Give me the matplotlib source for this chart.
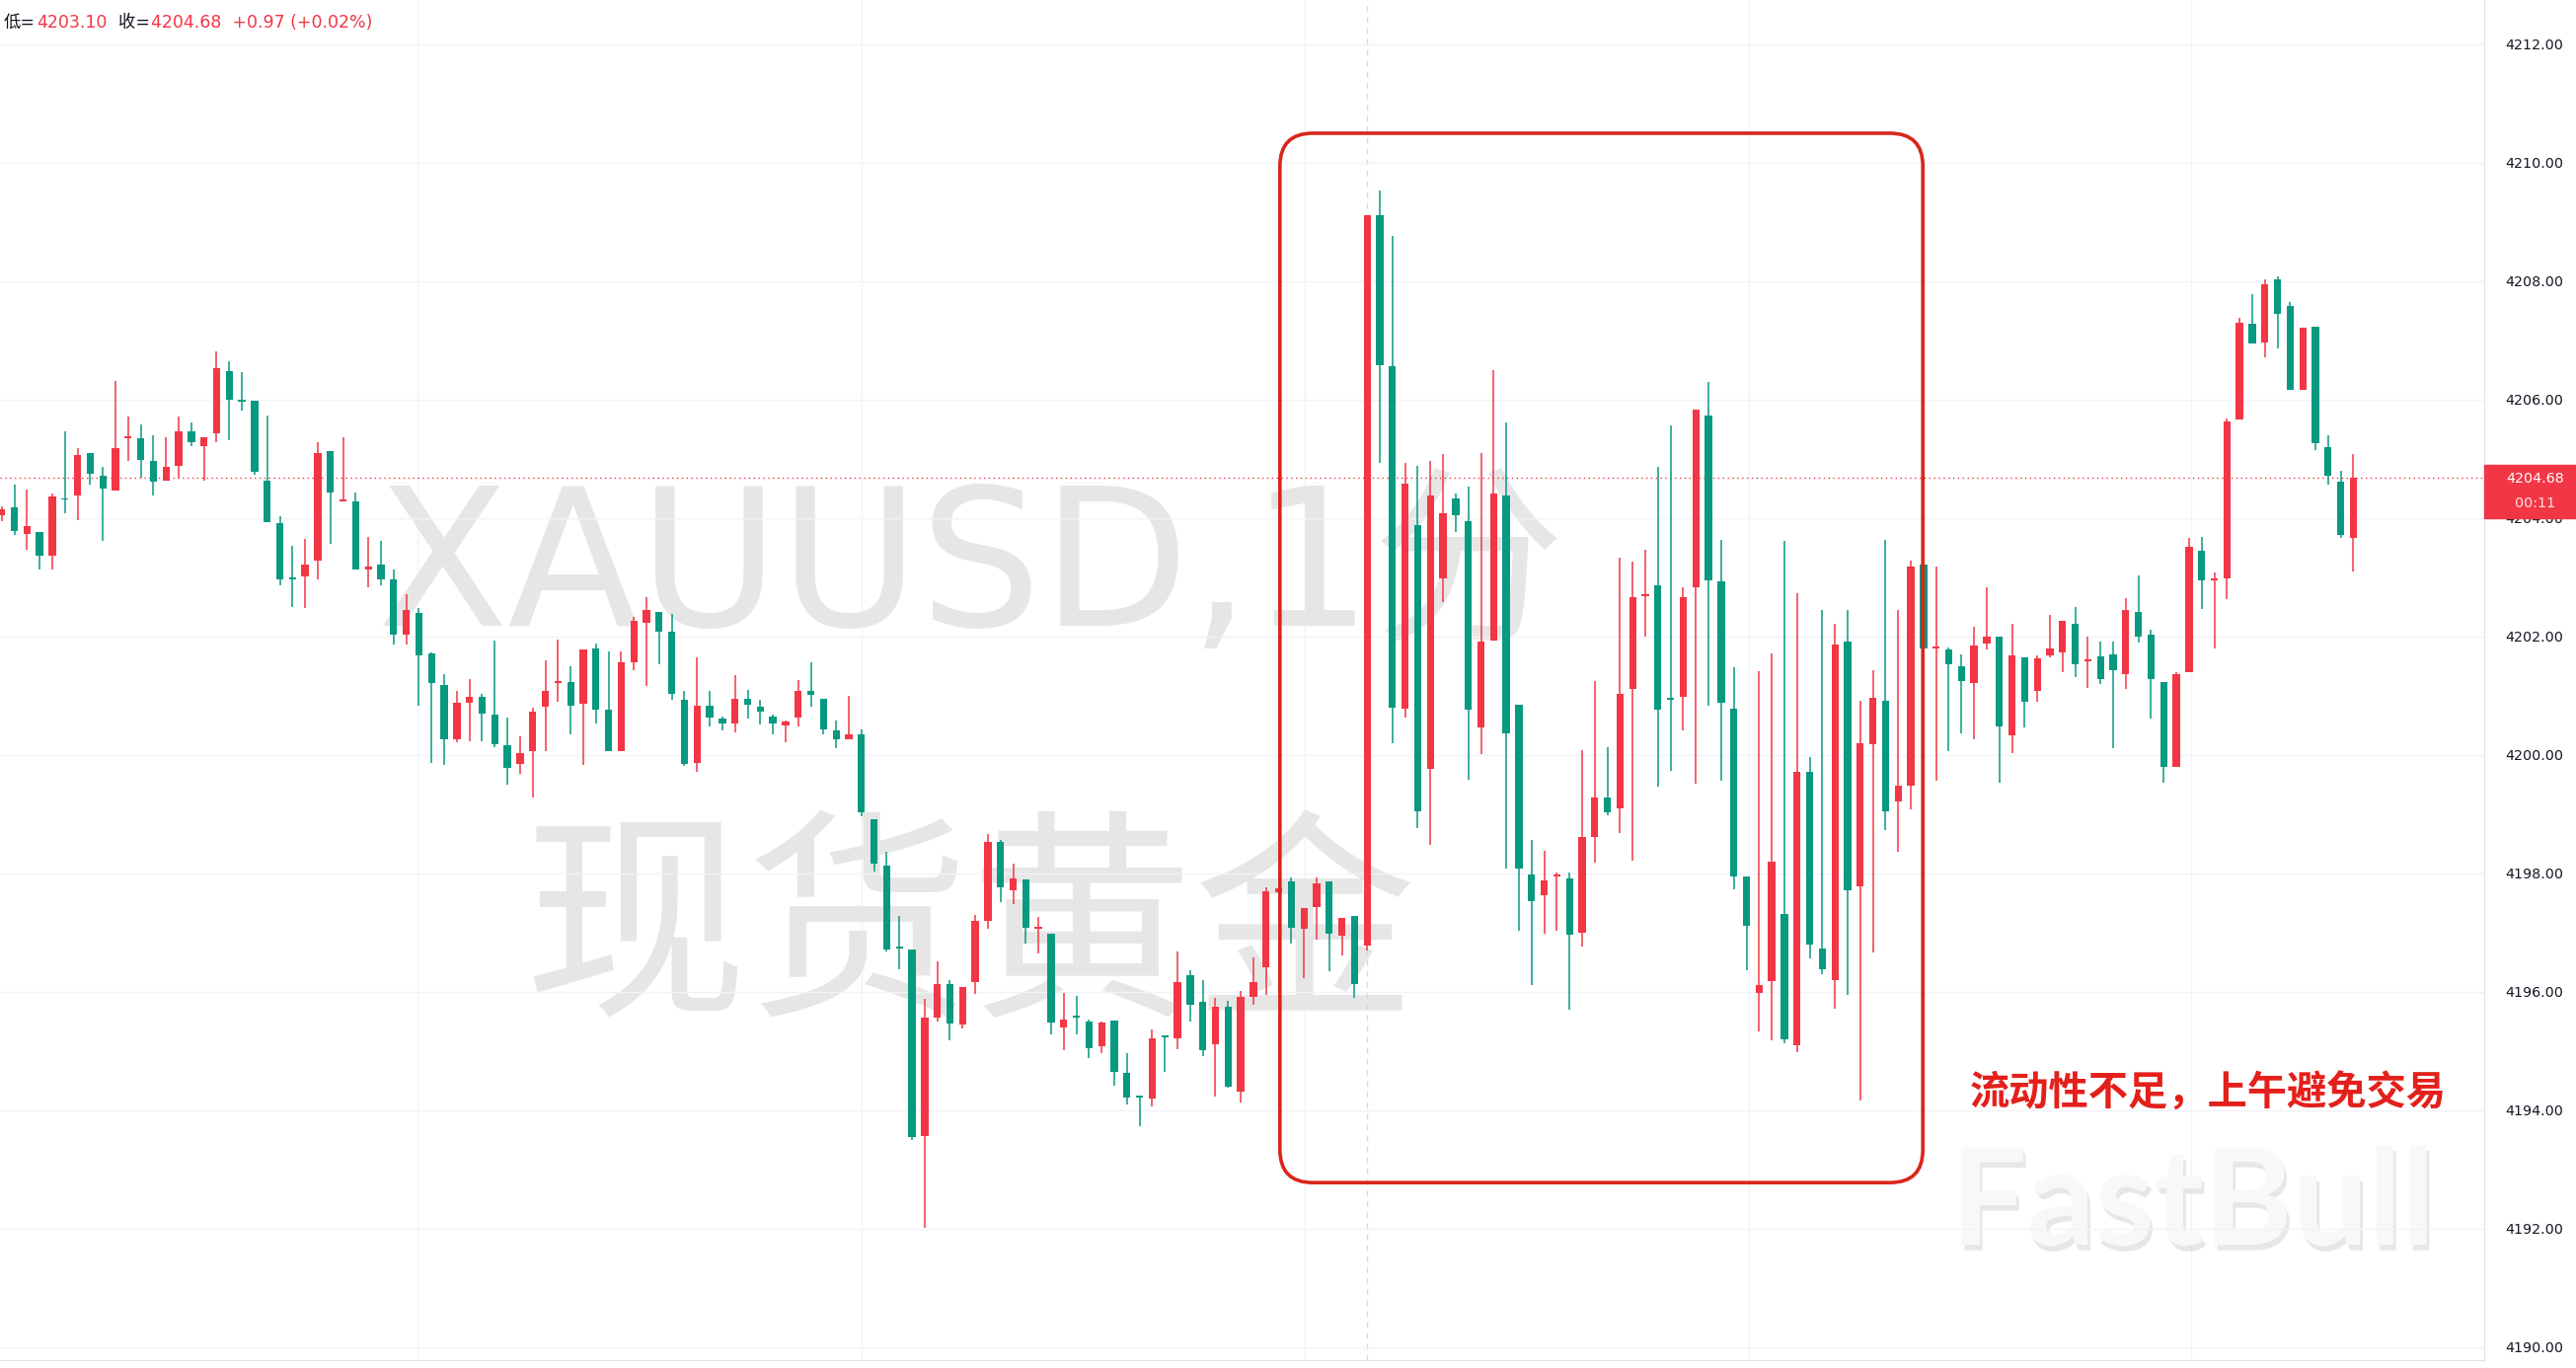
import numpy as np
import matplotlib.pyplot as plt
import matplotlib.patheffects as pe
from matplotlib.patches import FancyBboxPatch, Rectangle

plt.rcParams['font.family'] = ['DejaVu Sans', 'Noto Sans CJK SC']

# 1分钟K线 (开, 高, 低, 收)
opens = [4204.05, 4204.18, 4203.74, 4203.76, 4203.36, 4204.33, 4204.38, 4205.10, 4204.72, 4204.47,
         4205.35, 4205.35, 4204.97, 4204.64, 4204.89, 4205.46, 4205.22, 4205.43, 4206.49, 4205.98,
         4205.98, 4204.64, 4203.91, 4202.98, 4203.02, 4203.28, 4205.14, 4204.28, 4204.29, 4203.14,
         4203.21, 4202.97, 4202.04, 4202.40, 4201.72, 4201.19, 4200.26, 4200.89, 4200.98, 4200.68,
         4200.17, 4199.85, 4200.06, 4200.82, 4201.22, 4201.24, 4200.87, 4201.80, 4200.76, 4200.07,
         4201.57, 4202.24, 4202.42, 4202.08, 4200.94, 4199.87, 4200.83, 4200.61, 4200.53, 4200.95,
         4200.82, 4200.65, 4200.50, 4200.63, 4201.08, 4200.95, 4200.41, 4200.26, 4200.35, 4198.92,
         4198.14, 4196.76, 4196.72, 4193.57, 4195.57, 4196.14, 4195.45, 4196.17, 4197.20, 4198.53,
         4197.71, 4197.90, 4197.07, 4196.98, 4195.40, 4195.59, 4195.50, 4195.08, 4195.52, 4194.64,
         4194.23, 4194.20, 4195.25, 4195.21, 4196.28, 4195.84, 4195.12, 4195.75, 4194.32, 4195.91,
         4196.41, 4197.68, 4197.86, 4197.07, 4197.43, 4197.86, 4196.95, 4197.28, 4196.78, 4209.12,
         4206.57, 4200.78, 4203.89, 4199.77, 4202.98, 4204.34, 4203.95, 4200.47, 4201.94, 4204.39,
         4200.85, 4197.98, 4197.64, 4197.95, 4197.92, 4197.00, 4198.62, 4199.29, 4199.10, 4201.11,
         4202.69, 4202.86, 4200.96, 4200.99, 4202.83, 4205.73, 4202.94, 4200.78, 4197.95, 4195.99,
         4196.19, 4197.32, 4195.10, 4199.71, 4196.73, 4196.20, 4201.92, 4197.78, 4200.18, 4200.92,
         4199.22, 4199.48, 4203.22, 4201.80, 4201.78, 4201.50, 4201.22, 4201.89, 4202.00, 4200.33,
         4201.65, 4201.08, 4201.68, 4201.74, 4202.22, 4201.58, 4201.66, 4201.70, 4201.37, 4202.42,
         4202.03, 4201.23, 4199.80, 4201.40, 4203.45, 4202.95, 4202.99, 4205.66, 4207.28, 4206.97,
         4208.04, 4207.58, 4206.17, 4207.24, 4205.20, 4204.62, 4203.67]
highs = [4204.20, 4204.56, 4204.48, 4203.76, 4204.42, 4205.46, 4205.19, 4205.10, 4204.87, 4206.31,
         4205.71, 4205.59, 4205.40, 4205.36, 4205.71, 4205.62, 4205.36, 4206.82, 4206.65, 4206.47,
         4205.98, 4205.74, 4204.03, 4203.53, 4203.65, 4205.28, 4205.14, 4205.36, 4204.44, 4203.69,
         4203.61, 4203.14, 4202.71, 4202.48, 4201.73, 4201.36, 4201.08, 4201.28, 4201.04, 4201.93,
         4200.64, 4200.31, 4200.80, 4201.60, 4201.95, 4201.50, 4201.78, 4201.89, 4201.75, 4201.75,
         4202.34, 4202.66, 4202.42, 4202.38, 4201.08, 4201.65, 4201.08, 4200.65, 4201.35, 4201.10,
         4200.93, 4200.68, 4200.59, 4201.26, 4201.57, 4200.95, 4200.59, 4201.00, 4200.44, 4198.92,
         4198.37, 4197.28, 4196.72, 4195.88, 4196.52, 4196.20, 4196.09, 4197.30, 4198.66, 4198.56,
         4198.16, 4197.90, 4197.27, 4196.98, 4195.98, 4195.94, 4195.54, 4195.50, 4195.52, 4194.97,
         4194.23, 4195.37, 4195.26, 4196.68, 4196.37, 4196.20, 4195.90, 4195.85, 4196.01, 4196.58,
         4197.76, 4197.95, 4197.94, 4197.41, 4197.94, 4197.86, 4197.25, 4197.28, 4209.12, 4209.53,
         4208.77, 4204.94, 4204.89, 4204.97, 4205.08, 4204.41, 4204.53, 4205.10, 4206.50, 4205.61,
         4200.85, 4198.56, 4198.38, 4198.02, 4198.02, 4200.09, 4201.25, 4200.13, 4203.34, 4203.26,
         4203.47, 4204.87, 4205.56, 4202.83, 4205.83, 4206.30, 4203.64, 4201.49, 4197.95, 4201.41,
         4201.71, 4203.62, 4202.73, 4199.96, 4202.45, 4202.22, 4202.45, 4200.92, 4201.43, 4203.64,
         4202.45, 4203.28, 4203.30, 4203.19, 4201.82, 4201.70, 4202.17, 4202.84, 4202.00, 4202.22,
         4201.65, 4201.68, 4202.37, 4202.27, 4202.50, 4202.00, 4201.92, 4201.92, 4202.65, 4203.04,
         4202.12, 4201.23, 4201.40, 4203.66, 4203.69, 4203.08, 4205.68, 4207.39, 4207.78, 4208.03,
         4208.08, 4207.65, 4207.22, 4207.24, 4205.40, 4204.80, 4205.09]
lows = [4203.95, 4203.72, 4203.47, 4203.14, 4203.14, 4204.09, 4203.96, 4204.57, 4203.61, 4204.47,
        4204.96, 4204.68, 4204.39, 4204.64, 4204.68, 4205.22, 4204.64, 4205.28, 4205.32, 4205.82,
        4204.74, 4203.93, 4202.86, 4202.50, 4202.48, 4202.96, 4203.56, 4204.28, 4203.14, 4202.83,
        4202.86, 4201.86, 4201.86, 4200.83, 4199.87, 4199.83, 4200.21, 4200.24, 4200.24, 4200.13,
        4199.50, 4199.68, 4199.29, 4200.06, 4200.90, 4200.35, 4199.83, 4200.53, 4200.07, 4200.07,
        4201.43, 4201.17, 4201.54, 4200.93, 4199.81, 4199.71, 4200.48, 4200.41, 4200.38, 4200.61,
        4200.52, 4200.35, 4200.22, 4200.48, 4200.82, 4200.35, 4200.11, 4200.26, 4198.96, 4198.03,
        4196.69, 4196.39, 4193.50, 4192.02, 4195.50, 4195.18, 4195.39, 4195.96, 4197.06, 4197.51,
        4197.48, 4196.81, 4196.65, 4195.28, 4195.02, 4195.28, 4194.89, 4194.96, 4194.41, 4194.10,
        4193.74, 4194.06, 4194.65, 4195.03, 4195.50, 4194.92, 4194.24, 4194.38, 4194.14, 4195.79,
        4195.95, 4197.60, 4196.81, 4196.24, 4196.88, 4196.35, 4196.61, 4195.90, 4196.70, 4204.94,
        4200.20, 4200.63, 4198.77, 4198.48, 4202.59, 4203.76, 4199.58, 4200.01, 4201.94, 4198.08,
        4197.04, 4196.11, 4196.99, 4197.04, 4195.70, 4196.76, 4198.19, 4198.98, 4198.69, 4198.21,
        4202.00, 4199.46, 4199.74, 4200.41, 4199.51, 4200.84, 4199.56, 4197.73, 4196.37, 4195.33,
        4195.18, 4195.14, 4194.99, 4196.56, 4196.30, 4195.71, 4195.95, 4194.16, 4196.67, 4198.74,
        4198.37, 4199.08, 4201.70, 4199.57, 4200.06, 4200.36, 4200.27, 4201.78, 4199.54, 4200.03,
        4200.47, 4200.90, 4201.65, 4201.40, 4201.31, 4201.14, 4201.20, 4200.12, 4201.11, 4201.90,
        4200.61, 4199.54, 4199.80, 4201.40, 4202.47, 4201.80, 4202.63, 4205.66, 4206.95, 4206.71,
        4206.86, 4206.17, 4206.17, 4205.15, 4204.57, 4203.67, 4203.10]
closes = [4204.15, 4203.79, 4203.87, 4203.36, 4204.36, 4204.31, 4205.06, 4204.75, 4204.50, 4205.19,
          4205.37, 4204.98, 4204.61, 4204.87, 4205.46, 4205.28, 4205.36, 4206.53, 4206.00, 4205.97,
          4204.79, 4203.93, 4202.96, 4202.97, 4203.22, 4205.10, 4204.44, 4204.30, 4203.14, 4203.19,
          4202.97, 4202.03, 4202.45, 4201.69, 4201.21, 4200.27, 4200.89, 4200.98, 4200.70, 4200.18,
          4199.79, 4200.03, 4200.74, 4201.08, 4201.25, 4200.83, 4201.78, 4200.76, 4200.07, 4201.57,
          4202.27, 4202.45, 4202.08, 4201.04, 4199.85, 4200.83, 4200.63, 4200.53, 4200.95, 4200.85,
          4200.73, 4200.53, 4200.56, 4201.08, 4201.02, 4200.43, 4200.26, 4200.35, 4199.03, 4198.17,
          4196.72, 4196.74, 4193.55, 4195.56, 4196.14, 4195.47, 4196.09, 4197.20, 4198.53, 4197.76,
          4197.92, 4197.08, 4197.09, 4195.48, 4195.53, 4195.57, 4195.05, 4195.48, 4194.65, 4194.22,
          4194.22, 4195.22, 4195.24, 4196.17, 4195.79, 4195.01, 4195.75, 4194.40, 4195.91, 4196.16,
          4197.70, 4197.75, 4197.09, 4197.41, 4197.84, 4196.99, 4197.25, 4196.13, 4209.12, 4206.58,
          4200.80, 4204.58, 4199.05, 4204.39, 4204.08, 4204.05, 4200.76, 4201.92, 4204.41, 4200.37,
          4198.08, 4197.54, 4197.89, 4197.96, 4196.97, 4198.62, 4199.29, 4199.03, 4201.04, 4202.66,
          4202.71, 4200.76, 4200.94, 4202.67, 4205.83, 4202.95, 4200.88, 4197.95, 4197.12, 4196.12,
          4198.20, 4195.20, 4199.71, 4196.80, 4196.39, 4201.86, 4197.72, 4200.20, 4200.96, 4199.05,
          4199.48, 4203.19, 4201.80, 4201.82, 4201.53, 4201.25, 4201.85, 4202.00, 4200.49, 4201.68,
          4200.90, 4201.63, 4201.80, 4202.27, 4201.53, 4201.60, 4201.29, 4201.44, 4202.45, 4202.00,
          4201.28, 4199.80, 4201.37, 4203.52, 4202.95, 4202.96, 4205.64, 4207.30, 4206.95, 4207.95,
          4207.45, 4206.17, 4207.22, 4205.27, 4204.71, 4203.71, 4204.68]

y_ticks = np.arange(4190, 4213, 2)
vgrid = [32.9, 68.0, 103.1, 138.2, 173.2]   # 时间网格
session_start = 108
hl_box = (101.1, 151.95, 4192.78, 4210.5)    # 红框: 起止K线, 价格范围
countdown = '00:11'
watermark1 = 'XAUUSD,1分'
watermark2 = '现货黄金'
note = '流动性不足，上午避免交易'

UP = '#f23645'
DOWN = '#089981'

W, H = 2610, 1386
fig = plt.figure(figsize=(W / 100, H / 100), dpi=100)
ax = fig.add_axes([0, 8 / H, 2517 / W, 1378 / H])
ax.set_xlim(-0.133, 196.35)
ax.set_ylim(4189.783, 4212.75)

o = np.array(opens)
c = np.array(closes)
x = np.arange(len(o))
up = c >= o
colors = np.where(up, UP, DOWN)

ax.vlines(x, lows, highs, colors=colors, lw=1.1, zorder=3)
ax.bar(x, np.maximum(np.abs(c - o), 0.03), bottom=np.minimum(o, c),
       width=0.57, color=colors, linewidth=0, zorder=4)

# 网格
ax.set_yticks(y_ticks)
ax.set_yticklabels([f'{v:.2f}' for v in y_ticks])
ax.grid(axis='y', color='#f0f3fa', lw=1, zorder=0)
ax.vlines(vgrid, 4189, 4213, colors='#f0f3fa', lw=1, zorder=0)
ax.axvline(session_start, color='#d5d8de', ls=(0, (4, 4)), lw=1, zorder=1)
ax.set_xticks([])
ax.yaxis.tick_right()
ax.tick_params(axis='y', length=0, pad=15, labelsize=10.3, labelcolor='#131722')
for s in ['top', 'left']:
    ax.spines[s].set_visible(False)
for s in ['right', 'bottom']:
    ax.spines[s].set_color('#e0e3eb')

# 最新价虚线
last = closes[-1]
ax.axhline(last, color=UP, ls=(0, (1, 2.5)), lw=1, zorder=2)

# 水印
ax.text(0.3905, 0.579, watermark1, transform=ax.transAxes, fontsize=140,
        color='#e6e6e6', ha='center', va='center', zorder=0,
        family=['DejaVu Sans', 'Noto Sans CJK SC'])
ax.text(0.3905, 0.312, watermark2, transform=ax.transAxes, fontsize=163,
        color='#e6e6e6', ha='center', va='center', zorder=0,
        family=['Noto Sans CJK SC'])
ax.text(0.8828, 0.113, 'FastBull', transform=ax.transAxes, fontsize=98,
        fontweight='bold', color='#f8f8f8', ha='center', va='center', zorder=1,
        family=['Lato', 'DejaVu Sans'],
        path_effects=[pe.SimplePatchShadow(offset=(2, -4), shadow_rgbFace='#d0d0d0', alpha=0.5),
                      pe.Normal()])

# 红框 (圆角按像素比例修正)
x0, x1, y0, y1 = hl_box
aspect = 12.81 / 60
box = FancyBboxPatch((x0, y0), x1 - x0, y1 - y0,
                     boxstyle='round,pad=0,rounding_size=2.6',
                     mutation_aspect=aspect, fill=False, ec='#d8261c', lw=2.6, zorder=6)
ax.add_patch(box)

ax.text(0.889, 0.196, note, transform=ax.transAxes, fontsize=29, fontweight='bold',
        color='#e3201b', ha='center', va='center', zorder=7, family=['Noto Sans CJK SC'])

# 右侧价格标签
fig.add_artist(Rectangle((2517 / W, (H - 525) / H), 93 / W, 54 / H,
                         transform=fig.transFigure, color=UP, zorder=10))
fig.text(2539 / W, (H - 485) / H, f'{last:.2f}', color='white', fontsize=10.3,
         ha='left', va='center', zorder=11)
fig.text(2548 / W, (H - 510) / H, countdown, color='#ffe0e3', fontsize=10.3,
         ha='left', va='center', zorder=11)

# 顶部信息
chg = closes[-1] - closes[-2]
pct = chg / closes[-2] * 100
parts = [('低=', '#131722'), (f'{lows[-1]:.2f}', UP), ('  收=', '#131722'),
         (f'{closes[-1]:.2f}  {chg:+.2f} ({pct:+.2f}%)', UP)]
fig.canvas.draw()
r = fig.canvas.get_renderer()
xpos = 4
for txt, col in parts:
    t = fig.text(xpos / W, (H - 23) / H, txt, color=col, fontsize=12.5, ha='left', va='center')
    xpos = t.get_window_extent(r).x1 + 1

fig.savefig('out.png', dpi=100, facecolor='white')
